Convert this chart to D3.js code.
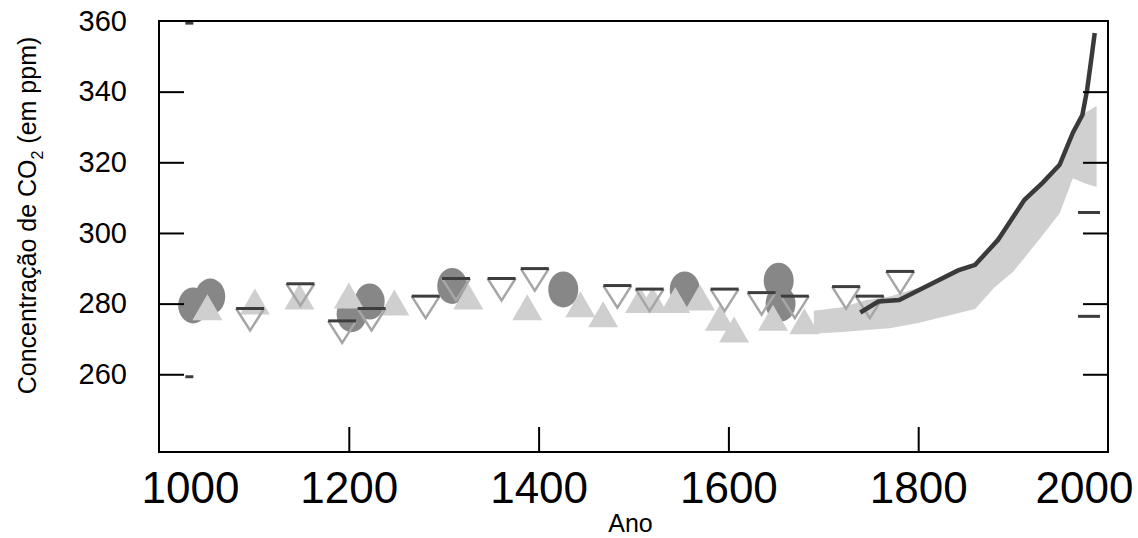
<!DOCTYPE html>
<html>
<head>
<meta charset="utf-8">
<script src="https://cdn.jsdelivr.net/npm/d3@7"></script>
<style>
  body { margin: 0; background: #fff; }
  text { font-family: "Liberation Sans", Arial, sans-serif; }
</style>
</head>
<body>
<div id="chart"></div>
<script>
// ice core records (year, ppm)
const circles = [[1036, 279.5], [1054, 282], [1203, 277], [1222, 280.6], [1309, 285], [1426, 284], [1554, 284], [1653, 286.5], [1655, 280]];
const upTriangles = [[1051, 279], [1101, 280.6], [1148, 282], [1200, 282.3], [1248, 280.3], [1326, 282], [1388, 279], [1444, 279.8], [1468, 277],
    [1507, 281], [1520, 281], [1544, 281], [1570, 281.7], [1591, 276], [1606, 272.7], [1647, 276], [1680, 275]];
const downTriangles = [[1096, 275.5], [1149, 282.5], [1193, 272], [1224, 275.5], [1281, 279], [1313, 284], [1361, 284], [1396, 286.8],
    [1483, 282], [1517, 281], [1596, 281], [1635, 280], [1670, 279], [1724, 281.7], [1749, 279], [1781, 286]];
// light band of recent firn / ice data: year, low, high
const bandYears = [1690, 1720, 1745, 1770, 1800, 1830, 1860, 1880, 1900, 1915, 1930, 1949, 1963, 1976, 1988];
const bandLow   = [271.5, 272, 272.5, 273, 274.5, 276.5, 278.5, 284.5, 289, 294, 299, 305.5, 315.5, 314, 313];
const bandHigh  = [278, 279, 281, 282, 284.5, 287.5, 291, 298, 304, 309.5, 314, 320, 329, 334, 336];
// dark record along the top of the band
const darkLine = [[1739, 277.5], [1758, 280.6], [1780, 281], [1802, 284], [1842, 289.4], [1860, 291], [1884, 298], [1912, 309.4],
    [1931, 314.2], [1949, 319.3], [1963, 328.4], [1973, 333.4], [1978, 340.5], [1983, 350.4], [1986, 356.6]];
const smallDashes = [[1032, 359.4], [1032, 259.3]];
const wideDashes = [[1980, 305.8], [1980, 276.4]];

const yTicks = [260, 280, 300, 320, 340, 360];
const xTicks = [1000, 1200, 1400, 1600, 1800, 2000];

const W = 1138, H = 538;
const margin = {top: 21, right: 30, bottom: 86, left: 159};
const width = W - margin.left - margin.right;
const height = H - margin.top - margin.bottom;

const svg = d3.select("#chart").append("svg")
    .attr("width", W)
    .attr("height", H)
    .append("g")
    .attr("transform", "translate(" + margin.left + "," + margin.top + ")");

const x = d3.scaleLinear().domain([1000, 2000]).range([0, width]);
const y = d3.scaleLinear().domain([238, 360]).range([height, 0]);

// band
const band = bandYears.map((d, i) => ({year: d, lo: bandLow[i], hi: bandHigh[i]}));
svg.append("path")
    .datum(band)
    .attr("fill", "#d0d0d0")
    .attr("d", d3.area().x(d => x(d.year)).y0(d => y(d.lo)).y1(d => y(d.hi)));

// circles
svg.selectAll(".circ")
    .data(circles)
    .enter()
    .append("ellipse")
    .attr("class", "circ")
    .attr("cx", d => x(d[0]))
    .attr("cy", d => y(d[1]))
    .attr("rx", 15)
    .attr("ry", 18)
    .attr("fill", "#878787");

// up triangles
const tw = 15, th = 13;
svg.selectAll(".up")
    .data(upTriangles)
    .enter()
    .append("path")
    .attr("class", "up")
    .attr("d", d => {
        let cx = x(d[0]), cy = y(d[1]);
        return "M" + (cx - tw) + "," + (cy + th) + "L" + cx + "," + (cy - th) + "L" + (cx + tw) + "," + (cy + th) + "Z";
    })
    .attr("fill", "#cfcfcf");

// down triangles: open, with a dark top edge
const dw = 14, dh = 11;
let down = svg.selectAll(".down")
    .data(downTriangles)
    .enter()
    .append("g")
    .attr("class", "down");

down.append("path")
    .attr("d", d => {
        let cx = x(d[0]), cy = y(d[1]);
        return "M" + (cx - dw) + "," + (cy - dh) + "L" + cx + "," + (cy + dh) + "L" + (cx + dw) + "," + (cy - dh);
    })
    .attr("fill", "none")
    .attr("stroke", "#a6a6a6")
    .attr("stroke-width", 2.5);

down.append("line")
    .attr("x1", d => x(d[0]) - dw)
    .attr("x2", d => x(d[0]) + dw)
    .attr("y1", d => y(d[1]) - dh)
    .attr("y2", d => y(d[1]) - dh)
    .attr("stroke", "#3d3d3d")
    .attr("stroke-width", 3);

// dark record
svg.append("path")
    .datum(darkLine)
    .attr("fill", "none")
    .attr("stroke", "#3a3a3a")
    .attr("stroke-width", 4.5)
    .attr("d", d3.line().x(d => x(d[0])).y(d => y(d[1])));

// dashes
svg.selectAll(".sdash")
    .data(smallDashes)
    .enter()
    .append("line")
    .attr("x1", d => x(d[0]) - 4).attr("x2", d => x(d[0]) + 4)
    .attr("y1", d => y(d[1])).attr("y2", d => y(d[1]))
    .attr("stroke", "#3d3d3d").attr("stroke-width", 3);

svg.selectAll(".wdash")
    .data(wideDashes)
    .enter()
    .append("line")
    .attr("x1", d => x(d[0]) - 11).attr("x2", d => x(d[0]) + 11)
    .attr("y1", d => y(d[1])).attr("y2", d => y(d[1]))
    .attr("stroke", "#3d3d3d").attr("stroke-width", 3);

// axes, ticks pointing inward
const yAxis = d3.axisLeft(y).tickValues(yTicks).tickSize(-25).tickPadding(32).tickFormat(d3.format("d"));
const gy = svg.append("g").call(yAxis);
gy.select(".domain").remove();
gy.selectAll("line").attr("stroke", "#000").attr("stroke-width", 2);
gy.selectAll("line").filter(d => d === 360).remove();
gy.selectAll("text").style("font-size", "29px").attr("fill", "#000");

const yAxisR = d3.axisRight(y).tickValues(yTicks.filter(d => d < 360)).tickSize(-25).tickFormat("");
const gyr = svg.append("g").attr("transform", "translate(" + width + ",0)").call(yAxisR);
gyr.select(".domain").remove();
gyr.selectAll("line").attr("stroke", "#000").attr("stroke-width", 2);

const xAxis = d3.axisBottom(x).tickValues(xTicks).tickSize(-25).tickPadding(20).tickFormat(d3.format("d"));
const gx = svg.append("g").attr("transform", "translate(0," + height + ")").call(xAxis);
gx.select(".domain").remove();
gx.selectAll("line").attr("stroke", "#000").attr("stroke-width", 2);
gx.selectAll("line").filter(d => d === 1000 || d === 2000).remove();
gx.selectAll("text")
    .style("font-size", "44px")
    .attr("fill", "#000")
    .attr("dx", d => d === 1000 ? 31 : (d === 2000 ? -24 : 0));

// frame
svg.append("rect")
    .attr("width", width)
    .attr("height", height)
    .attr("fill", "none")
    .attr("stroke", "#000")
    .attr("stroke-width", 2);

// titles
svg.append("text")
    .attr("text-anchor", "middle")
    .attr("x", width / 2 - 3)
    .attr("y", height + 80)
    .style("font-size", "25px")
    .text("Ano");

let yt = svg.append("text")
    .attr("text-anchor", "middle")
    .attr("transform", "translate(" + (-123) + "," + (height / 2 - 21) + ") rotate(-90)")
    .style("font-size", "25px");
yt.append("tspan").text("Concentração de CO");
yt.append("tspan").text("2").style("font-size", "16px").attr("dy", 7);
yt.append("tspan").text(" (em ppm)").attr("dy", -7);
</script>
</body>
</html>
